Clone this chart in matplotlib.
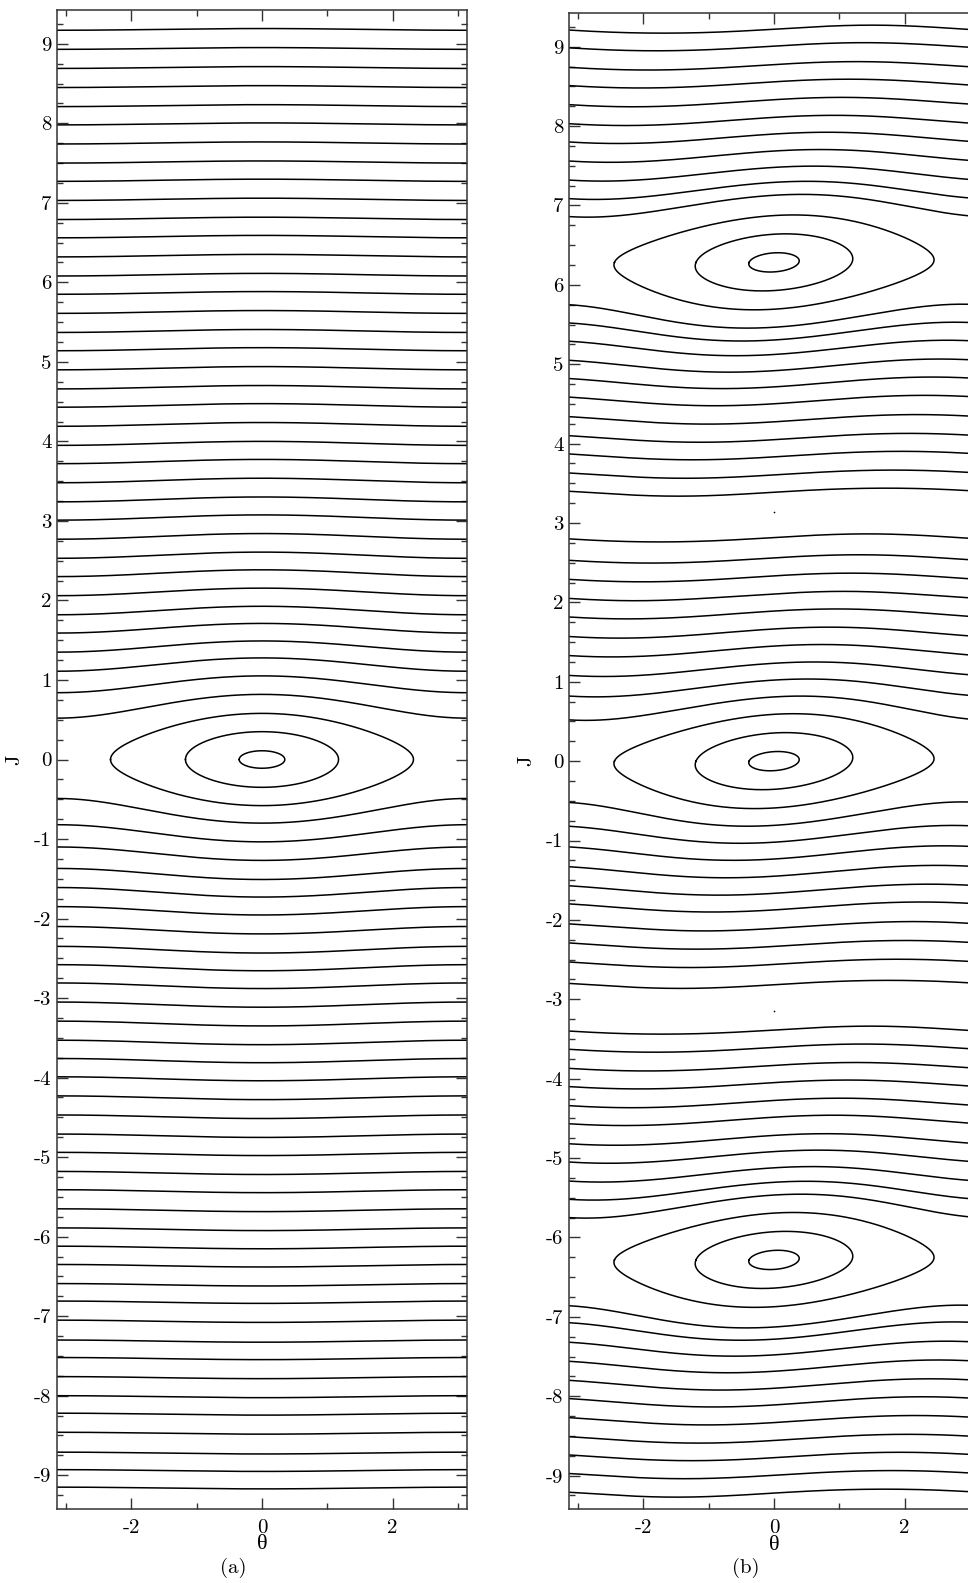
import math
import numpy as np
import matplotlib
matplotlib.use("Agg")
import matplotlib.pyplot as plt
from matplotlib.ticker import MultipleLocator, FormatStrFormatter

plt.rcParams['font.family'] = 'cmr10'
plt.rcParams['mathtext.fontset'] = 'cm'
plt.rcParams['axes.unicode_minus'] = False
plt.rcParams['axes.formatter.use_mathtext'] = True

# kick strength
K = 0.1

# (a) pendulum: J at theta = +-pi for each rotating curve, J at theta = 0 for librations
a_upper = [0.52, 0.84, 1.11, 1.35, 1.59, 1.82, 2.06, 2.30, 2.53, 2.77, 3.01, 3.24,
           3.48, 3.72, 3.95, 4.19, 4.43, 4.66, 4.90, 5.14, 5.37, 5.61, 5.85, 6.08,
           6.32, 6.56, 6.79, 7.03, 7.27, 7.50, 7.74, 7.98, 8.21, 8.45, 8.69, 8.93, 9.17]
a_lower = [-0.49, -0.82, -1.10, -1.37, -1.61, -1.85, -2.10, -2.35, -2.58, -2.81, -3.05,
           -3.29, -3.53, -3.76, -3.99, -4.23, -4.47, -4.71, -4.94, -5.18, -5.41, -5.65,
           -5.89, -6.12, -6.35, -6.59, -6.81, -7.05, -7.30, -7.52, -7.76, -8.00, -8.22,
           -8.46, -8.71, -8.93, -9.15]
a_island = [0.11, 0.35, 0.58]

# (b) standard map: starting J at theta = -pi for rotating orbits
b_upper = [0.52, 0.82, 1.08, 1.33, 1.57, 1.81, 2.05, 2.29, 2.53, 2.80,
           3.40, 3.63, 3.87, 4.10, 4.34, 4.58, 4.82, 5.05, 5.29, 5.52, 5.75,
           6.86, 7.08, 7.32, 7.56, 7.80, 8.03, 8.27, 8.51, 8.74, 8.98, 9.21]
b_lower = [-0.52, -0.82, -1.08, -1.33, -1.57, -1.81, -2.05, -2.29, -2.53, -2.80,
           -3.40, -3.63, -3.87, -4.10, -4.34, -4.58, -4.82, -5.05, -5.29, -5.52, -5.75,
           -6.86, -7.08, -7.32, -7.56, -7.80, -8.03, -8.27, -8.51, -8.74, -8.98, -9.21]
# island orbits: J offset above each island centre, started at theta = 0
b_island = [0.12, 0.355, 0.59]
b_centres = [-2 * np.pi, 0.0, 2 * np.pi]
b_period2 = [np.pi, -np.pi]


def standard_map(th0, p0, k, n):
    th, p = th0, p0
    ths = np.empty(n)
    ps = np.empty(n)
    for i in range(n):
        p = p - k * math.sin(th)
        th = th + p
        ths[i] = th
        ps[i] = p
    ths = (ths + np.pi) % (2 * np.pi) - np.pi
    return ths, ps


def rotating_orbit(p0, k, n=3000):
    # nudge the start off thin resonance chains so the orbit traces one smooth curve
    for t in range(25):
        th, p = standard_map(-np.pi, p0 + 0.006 * t, k, n)
        o = np.argsort(th)
        th, p = th[o], p[o]
        gap = max(np.diff(th).max(), (th[0] + np.pi) + (np.pi - th[-1]))
        jump = np.abs(np.diff(p)).max()
        if gap < 0.02 and jump < 0.01:
            break
    return th, p


def style_axes(ax):
    ax.set_xlim(-np.pi, np.pi)
    ax.set_ylim(-3 * np.pi, 3 * np.pi)
    ax.xaxis.set_major_locator(MultipleLocator(2))
    ax.xaxis.set_minor_locator(MultipleLocator(1))
    ax.yaxis.set_major_locator(MultipleLocator(1))
    ax.yaxis.set_minor_locator(MultipleLocator(0.25))
    ax.xaxis.set_major_formatter(FormatStrFormatter('%g'))
    ax.yaxis.set_major_formatter(FormatStrFormatter('%g'))
    ax.tick_params(which='both', direction='in', top=True, right=True,
                   labelsize=15, width=1.0, color='#333333')
    ax.tick_params(which='major', length=8)
    ax.tick_params(which='minor', length=4.3)
    ax.tick_params(axis='y', pad=4)
    ax.tick_params(axis='x', pad=7)
    for s in ax.spines.values():
        s.set_linewidth(1.1)
        s.set_color('#333333')
    ax.set_ylabel('J', fontsize=15, rotation=90)
    ax.yaxis.set_label_coords(-0.083, 0.5)
    ax.text(0.5, -0.024, 'θ', transform=ax.transAxes, ha='center', va='center',
            fontsize=16, family='Liberation Serif')


fig = plt.figure(figsize=(9.68, 15.83), dpi=100)
ax_a = fig.add_axes([57 / 968, 74 / 1583, 410 / 968, 1499 / 1583])
ax_b = fig.add_axes([569 / 968, 73.7 / 1583, 410 / 968, 1496.3 / 1583])

lw = 1.1
theta = np.linspace(-np.pi, np.pi, 800)

# (a) rotating curves of H = J^2/2 - K cos(theta)
for e in a_upper + a_lower:
    J = np.sign(e) * np.sqrt(e ** 2 + 2 * K * (1 + np.cos(theta)))
    ax_a.plot(theta, J, color='black', lw=lw)

# (a) librating curves around the origin
for amp in a_island:
    tmax = np.arccos(1 - amp ** 2 / (2 * K))
    s = np.linspace(-np.pi / 2, np.pi / 2, 400)
    th = tmax * np.sin(s)
    j = np.sqrt(np.clip(amp ** 2 - 2 * K * (1 - np.cos(th)), 0, None))
    ax_a.plot(np.r_[th, th[::-1]], np.r_[j, -j[::-1]], color='black', lw=lw)

# (b) rotating orbits of the standard map
for p0 in b_upper + b_lower:
    th, p = rotating_orbit(p0, K)
    ax_b.plot(th, p, color='black', lw=lw)

# (b) island orbits around J = 0 and J = +-2 pi
for c in b_centres:
    for amp in b_island:
        th, p = standard_map(0.0, c + amp, K, 1500)
        order = np.argsort(np.arctan2((p - c) / 0.6, th / 2.3))
        x, y = th[order], p[order]
        ax_b.plot(np.r_[x, x[:1]], np.r_[y, y[:1]], color='black', lw=lw)

# (b) period-2 points
ax_b.plot(np.zeros(len(b_period2)), b_period2, 'o', color='black', ms=1.2, mew=0)

style_axes(ax_a)
style_axes(ax_b)

fig.text(233 / 968, 1 - 1568 / 1583, '(a)', ha='center', va='center', fontsize=15)
fig.text(746 / 968, 1 - 1568 / 1583, '(b)', ha='center', va='center', fontsize=15)

fig.savefig('out.png', dpi=100)
